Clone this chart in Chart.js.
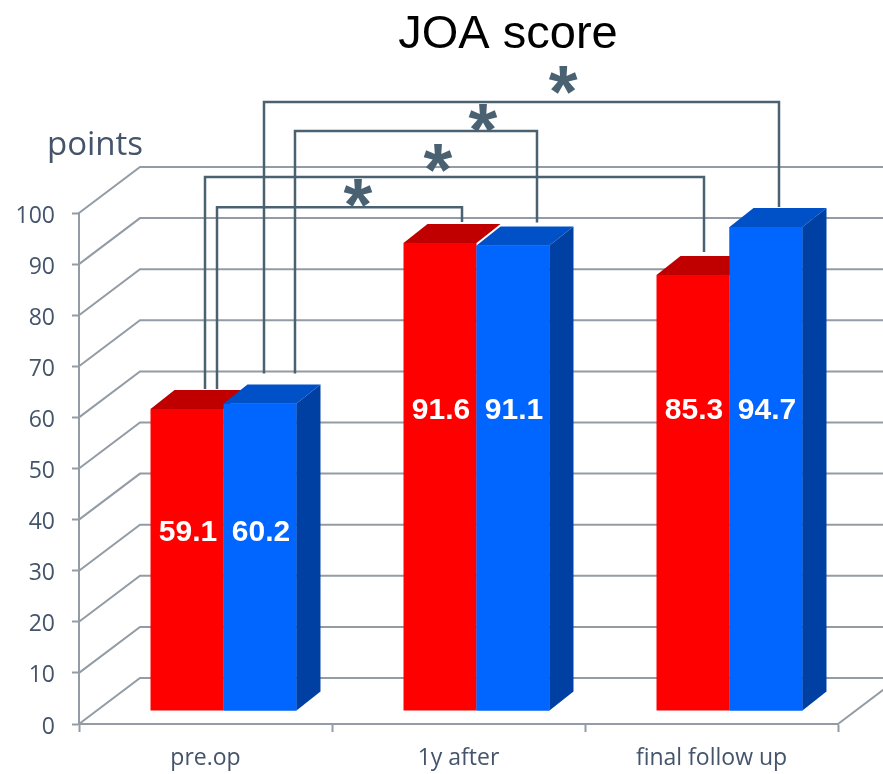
<!DOCTYPE html>
<html>
<head>
<meta charset="utf-8">
<script src="https://cdn.jsdelivr.net/npm/chart.js@4"></script>
<style>
  html, body { margin: 0; padding: 0; background: #ffffff; }
  #wrap { width: 883px; height: 774px; position: relative; }
</style>
</head>
<body>
<div id="wrap"><canvas id="joa"></canvas></div>
<script>
// ---- data ----
const categories = ['pre.op', '1y after', 'final follow up'];
const groupA = [59.1, 91.6, 85.3];   // red bars
const groupB = [60.2, 91.1, 94.7];   // blue bars
const yMin = 0, yMax = 100, yStep = 10;

// significance comparisons: [category, series] -> [category, series]
const comparisons = [
  { from: [0, 0], to: [1, 0] },
  { from: [0, 0], to: [2, 0] },
  { from: [0, 1], to: [1, 1] },
  { from: [0, 1], to: [2, 1] }
];

// ---- look ----
const TEXT = '#44546A';
const GRID = '#939ca4';
const BRACKET = '#4a6172';
const FACES = [
  { front: '#ff0000', top: '#c00000', side: '#a00000' },
  { front: '#0066ff', top: '#0050c8', side: '#0040a2' }
];
// projection offsets for the fake 3D look
const D = { wallX: 61, wallY: -46, barX: 18, barY: -13, boxX: 24, boxY: -19 };

// bracket geometry: x offsets from bar-front centre, drop gaps above the bar top,
// level of the horizontal run (value units on the bar plane), star placement
const bracketStyle = [
  { dxA: 30, dxB: 22, gapA: 20, gapB: 21, level: 98.6,  starAt: 0.576, starGap: 14 },
  { dxA: 18, dxB: 11, gapA: 20, gapB: 23, level: 104.5, starAt: 0.467, starGap: 19 },
  { dxA: 35, dxB: 24, gapA: 30, gapB: 23, level: 113.5, starAt: 0.777, starGap: 13 },
  { dxA: 4,  dxB: 13, gapA: 30, gapB: 20, level: 119.2, starAt: 0.581, starGap: 22 }
];
// vertical position of the value labels (value units on the bar plane)
const labelLevels = [34.8, 58.7, 58.7];

function poly(ctx, pts, fill) {
  ctx.beginPath();
  ctx.moveTo(pts[0][0], pts[0][1]);
  for (let i = 1; i < pts.length; i++) ctx.lineTo(pts[i][0], pts[i][1]);
  ctx.closePath();
  ctx.fillStyle = fill;
  ctx.fill();
}

const box3d = {
  id: 'box3d',
  beforeDatasetsDraw(chart) {
    const { ctx, chartArea: a, scales: { y } } = chart;
    ctx.save();
    ctx.strokeStyle = GRID;
    ctx.lineWidth = 2;
    ctx.lineCap = 'butt';
    // side wall + back wall gridlines
    for (let v = yMin; v <= yMax + 1e-9; v += yStep) {
      const py = y.getPixelForValue(v);
      ctx.beginPath();
      ctx.moveTo(a.left, py);
      ctx.lineTo(a.left + D.wallX, py + D.wallY);
      ctx.lineTo(chart.width + 20, py + D.wallY);
      ctx.stroke();
    }
    // floor edge on the right
    const py0 = y.getPixelForValue(yMin);
    ctx.beginPath();
    ctx.moveTo(a.right, py0);
    ctx.lineTo(a.right + D.wallX, py0 + D.wallY);
    ctx.stroke();
    ctx.restore();
    // bars sit a little behind the front plane
    ctx.save();
    ctx.translate(D.barX, D.barY);
  },
  afterDatasetsDraw(chart) {
    const { ctx, scales: { y } } = chart;
    ctx.restore();
    const metas = [chart.getDatasetMeta(0), chart.getDatasetMeta(1)];
    const geom = (el) => ({
      x1: el.x - el.width / 2 + D.barX,
      x2: el.x + el.width / 2 + D.barX,
      yt: el.y + D.barY,
      yb: el.base + D.barY,
      cx: el.x + D.barX
    });
    categories.forEach((_, i) => {
      metas.forEach((meta, s) => {
        const el = meta.data[i];
        const g = geom(el);
        if (s > 0) {
          // redraw the front so it stays in front of the neighbour's top face
          ctx.save();
          ctx.translate(D.barX, D.barY);
          el.draw(ctx);
          ctx.restore();
        }
        poly(ctx, [[g.x1, g.yt], [g.x2, g.yt], [g.x2 + D.boxX, g.yt + D.boxY], [g.x1 + D.boxX, g.yt + D.boxY]], FACES[s].top);
        if (s === metas.length - 1) {
          poly(ctx, [[g.x2, g.yt], [g.x2 + D.boxX, g.yt + D.boxY], [g.x2 + D.boxX, g.yb + D.boxY], [g.x2, g.yb]], FACES[s].side);
        }
      });
    });

    // value labels
    ctx.save();
    ctx.fillStyle = '#ffffff';
    ctx.font = 'bold 30px "Liberation Sans", Arial, sans-serif';
    ctx.textAlign = 'center';
    ctx.textBaseline = 'middle';
    categories.forEach((_, i) => {
      metas.forEach((meta, s) => {
        const el = meta.data[i];
        const ds = chart.data.datasets[s];
        const ly = y.getPixelForValue(labelLevels[i]) + D.barY;
        ctx.fillText(ds.data[i].toFixed(1), el.x + D.barX + 1, ly);
      });
    });
    ctx.restore();

    // significance brackets
    ctx.save();
    ctx.strokeStyle = BRACKET;
    ctx.fillStyle = BRACKET;
    ctx.lineWidth = 2.5;
    ctx.lineJoin = 'miter';
    const starFont = 'bold 74px "Liberation Sans", Arial, sans-serif';
    comparisons.forEach((c, k) => {
      const st = bracketStyle[k];
      const ea = geom(metas[c.from[1]].data[c.from[0]]);
      const eb = geom(metas[c.to[1]].data[c.to[0]]);
      const xa = ea.cx + st.dxA, xb = eb.cx + st.dxB;
      const ya = ea.yt - st.gapA, yb = eb.yt - st.gapB;
      const top = y.getPixelForValue(st.level) + D.barY;
      ctx.beginPath();
      ctx.moveTo(xa, ya);
      ctx.lineTo(xa, top);
      ctx.lineTo(xb, top);
      ctx.lineTo(xb, yb);
      ctx.stroke();
      // star, centred by its ink box
      ctx.font = starFont;
      ctx.textAlign = 'left';
      ctx.textBaseline = 'alphabetic';
      const m = ctx.measureText('*');
      const sx = xa + (xb - xa) * st.starAt;
      const sy = top - st.starGap;
      const bx = sx - (m.actualBoundingBoxRight - m.actualBoundingBoxLeft) / 2 + m.actualBoundingBoxLeft;
      const by = sy + (m.actualBoundingBoxAscent - m.actualBoundingBoxDescent) / 2;
      ctx.fillText('*', bx, by);
    });
    ctx.restore();
  },
  afterDraw(chart) {
    const { ctx } = chart;
    ctx.save();
    ctx.fillStyle = '#000000';
    ctx.font = '47px "Liberation Sans", Arial, sans-serif';
    ctx.textAlign = 'center';
    ctx.textBaseline = 'alphabetic';
    ctx.fillText('JOA score', 508, 48);
    ctx.fillStyle = TEXT;
    ctx.font = '33px "Open Sans", sans-serif';
    ctx.textAlign = 'left';
    ctx.fillText('points', 47, 155);
    ctx.restore();
  }
};

Chart.defaults.font.family = '"Open Sans", sans-serif';
Chart.defaults.color = TEXT;

new Chart(document.getElementById('joa'), {
  type: 'bar',
  data: {
    labels: categories,
    datasets: [
      { label: 'A', data: groupA, backgroundColor: FACES[0].front, borderWidth: 0 },
      { label: 'B', data: groupB, backgroundColor: FACES[1].front, borderWidth: 0 }
    ]
  },
  options: {
    responsive: true,
    maintainAspectRatio: false,
    animation: false,
    events: [],
    categoryPercentage: 0.577,
    barPercentage: 1.0,
    layout: { padding: { top: 213, right: 45, bottom: 0, left: 0 } },
    plugins: { legend: { display: false }, tooltip: { enabled: false }, title: { display: false } },
    scales: {
      x: {
        grid: { color: 'transparent', tickColor: GRID, drawOnChartArea: false, tickLength: 8, tickWidth: 2, offset: true },
        border: { color: GRID, width: 2 },
        ticks: { font: { size: 23 }, color: TEXT, padding: 13 },
        afterFit(s) { s.height = 50; }
      },
      y: {
        min: yMin, max: yMax,
        grid: { color: 'transparent', tickColor: GRID, drawOnChartArea: false, tickLength: 7, tickWidth: 2 },
        border: { color: GRID, width: 2 },
        ticks: { stepSize: yStep, font: { size: 23 }, color: TEXT, padding: 17, labelOffset: 3 },
        afterFit(s) { s.width = 79; }
      }
    }
  },
  plugins: [box3d]
});
</script>
</body>
</html>
